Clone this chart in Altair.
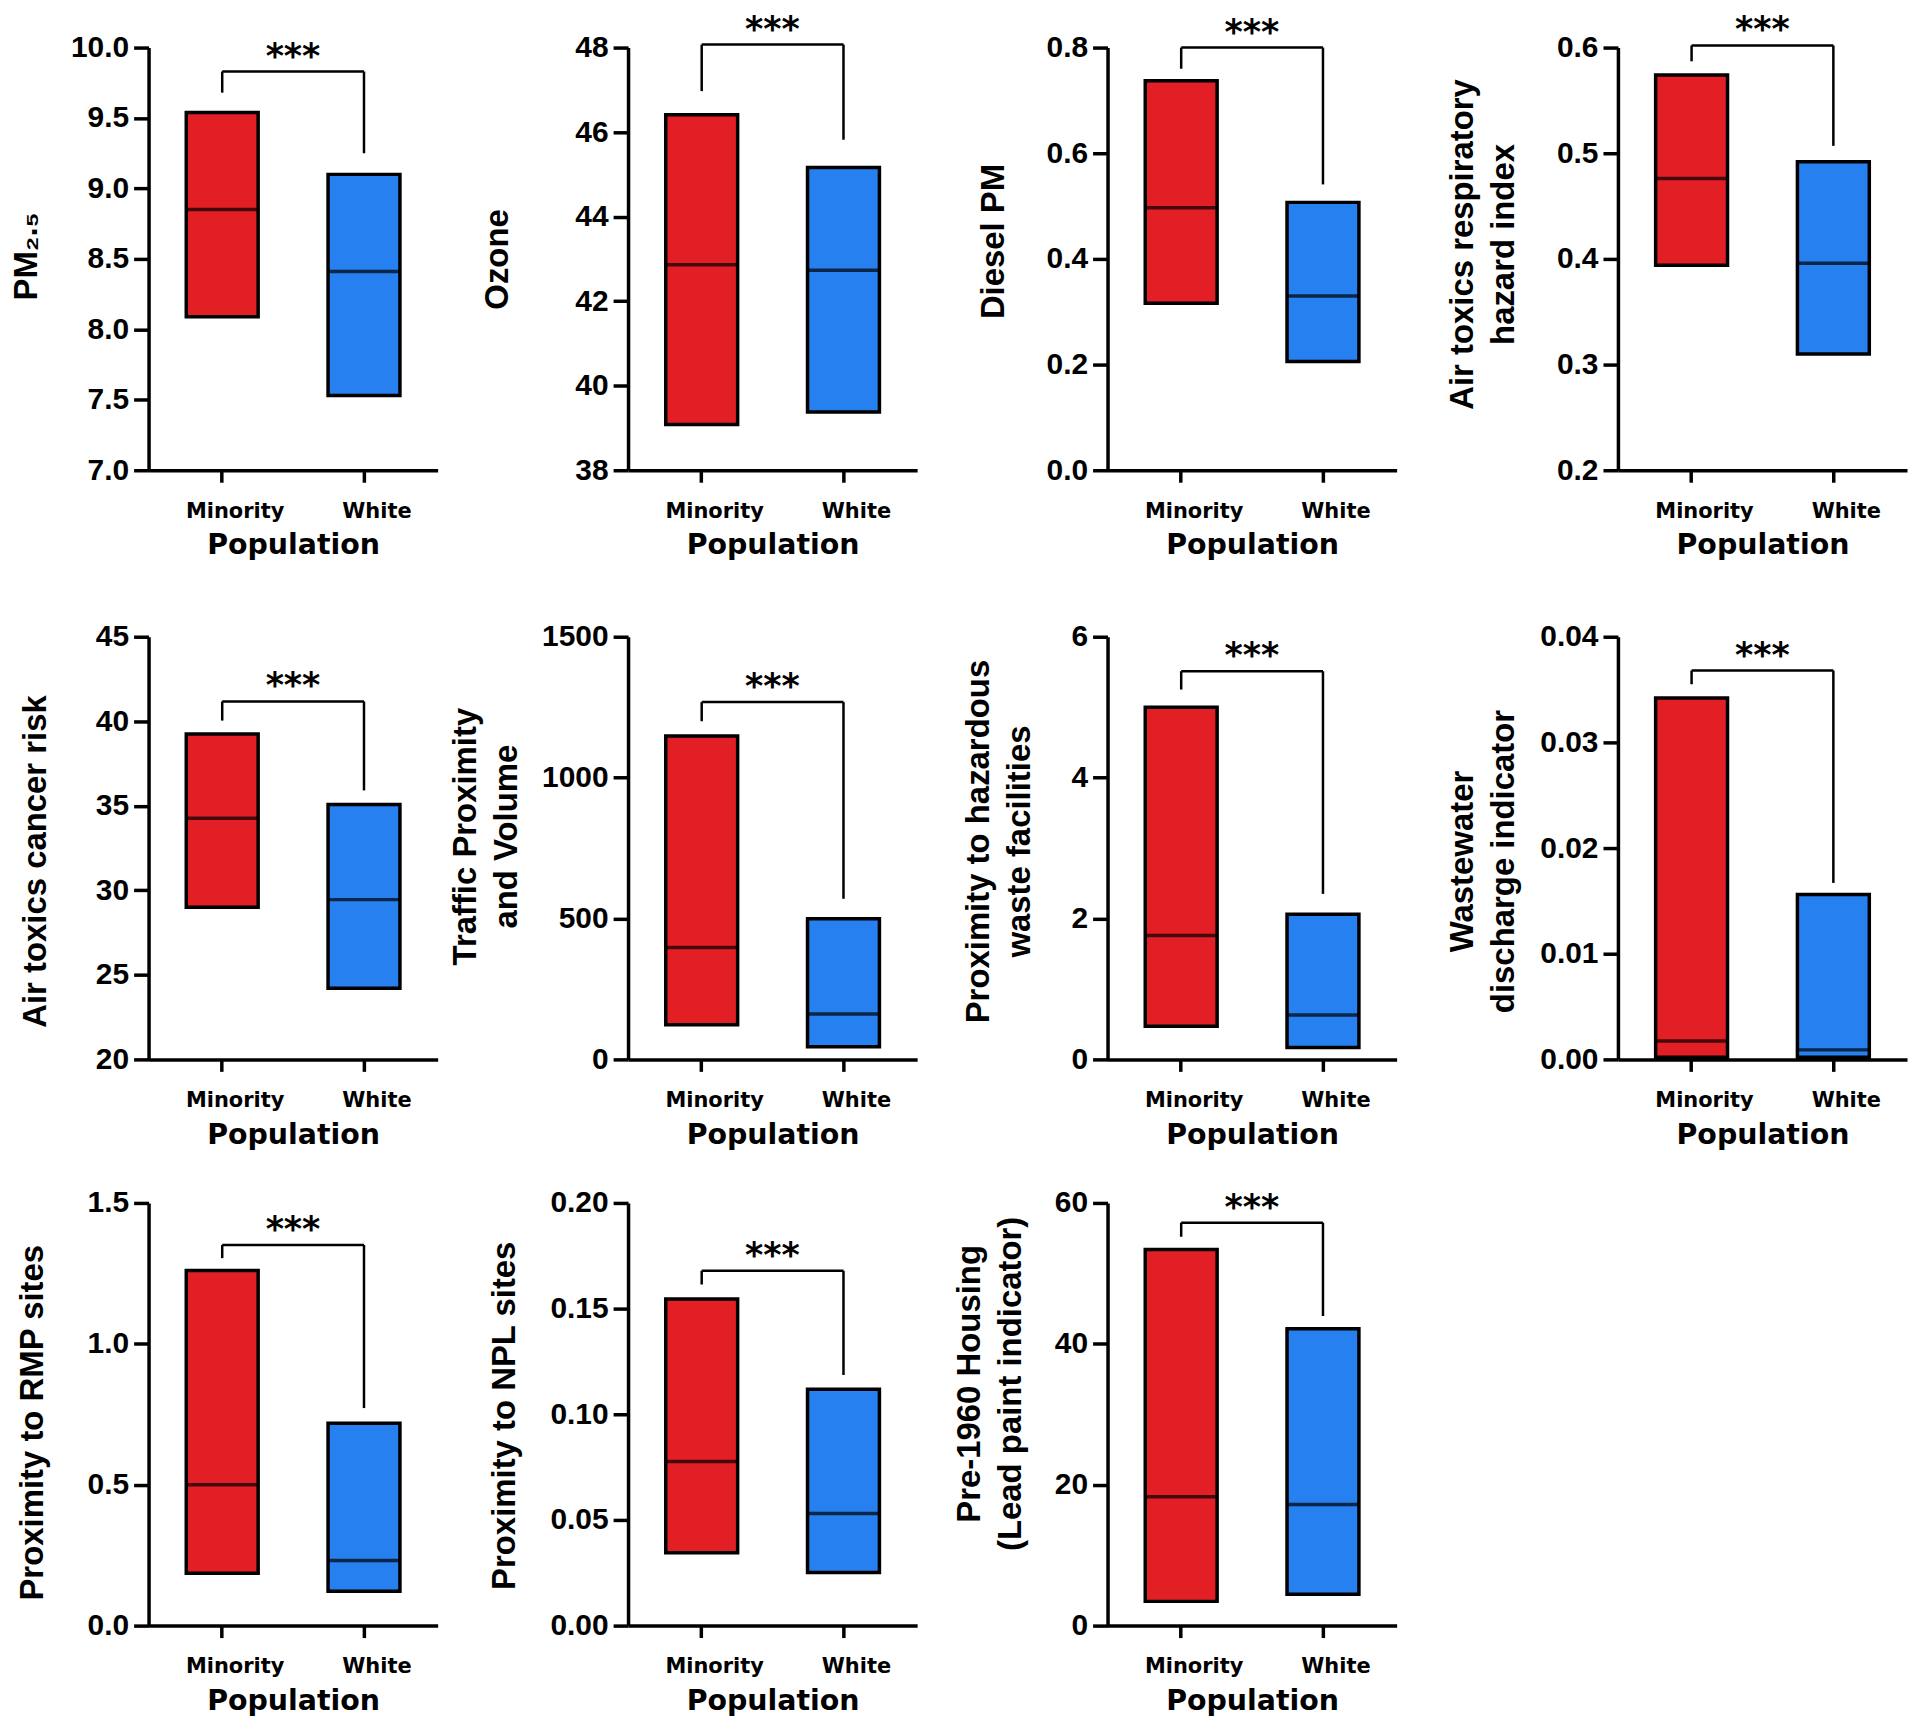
import altair as alt
import pandas as pd

groups = ["Minority", "White"]

titles = [
    ["PM₂.₅"],
    ["Ozone"],
    ["Diesel PM"],
    ["Air toxics respiratory", "hazard index"],
    ["Air toxics cancer risk"],
    ["Traffic Proximity", "and Volume"],
    ["Proximity to hazardous", "waste facilities"],
    ["Wastewater", "discharge indicator"],
    ["Proximity to RMP sites"],
    ["Proximity to NPL sites"],
    ["Pre-1960 Housing", "(Lead paint indicator)"],
]

# Minority: low / median / high
min_low = [8.09, 39.08, 0.316, 0.394, 29.0, 123, 0.47, 0.0002, 0.186, 0.0345, 3.44]
min_med = [8.85, 42.86, 0.497, 0.476, 34.26, 397, 1.76, 0.00175, 0.50, 0.0776, 18.3]
min_high = [9.54, 46.41, 0.737, 0.574, 39.25, 1148, 5.00, 0.0342, 1.26, 0.1545, 53.4]

# White: low / median / high
white_low = [7.53, 39.38, 0.206, 0.310, 24.21, 45, 0.17, 0.0002, 0.122, 0.0251, 4.46]
white_med = [8.41, 42.73, 0.330, 0.396, 29.45, 161, 0.63, 0.0009, 0.231, 0.053, 17.2]
white_high = [9.10, 45.16, 0.507, 0.492, 35.08, 499, 2.06, 0.0156, 0.718, 0.1118, 42.15]

# significance bracket
bracket_top = [9.83, 48.07, 0.80, 0.602, 41.17, 1268, 5.51, 0.0368, 1.351, 0.1679, 57.2]
left_leg = [9.68, 46.97, 0.76, 0.587, 40.04, 1200, 5.25, 0.0355, 1.304, 0.1614, 55.2]
right_leg = [9.25, 45.82, 0.541, 0.507, 35.91, 570, 2.35, 0.0167, 0.772, 0.1186, 43.95]
sig_label = "***"

y_ticks = [
    [7.0, 7.5, 8.0, 8.5, 9.0, 9.5, 10.0],
    [38, 40, 42, 44, 46, 48],
    [0.0, 0.2, 0.4, 0.6, 0.8],
    [0.2, 0.3, 0.4, 0.5, 0.6],
    [20, 25, 30, 35, 40, 45],
    [0, 500, 1000, 1500],
    [0, 2, 4, 6],
    [0.00, 0.01, 0.02, 0.03, 0.04],
    [0.0, 0.5, 1.0, 1.5],
    [0.00, 0.05, 0.10, 0.15, 0.20],
    [0, 20, 40, 60],
]
y_formats = [".1f", "d", ".1f", ".1f", "d", "d", "d", ".2f", ".1f", ".2f", "d"]

# styling: y-title first-line baseline offset from axis, and vertical centre
title_x = [-112, -121, -104, -146, -103, -153, -119, -146, -106, -114, -128]
title_y = [209, 212, 194, 197, 225, 200, 205, 225, 220, 213, 181]

RED = "#E31F26"
BLUE = "#2680F0"
W, H = 290, 424
BAR_W = 72
LW = 3.5


def panel(i):
    box = pd.DataFrame({
        "group": groups,
        "low": [min_low[i], white_low[i]],
        "med": [min_med[i], white_med[i]],
        "high": [min_high[i], white_high[i]],
    })
    legs = pd.DataFrame({
        "group": groups,
        "top": [bracket_top[i], bracket_top[i]],
        "end": [left_leg[i], right_leg[i]],
    })
    br = pd.DataFrame({"g1": [groups[0]], "g2": [groups[1]], "top": [bracket_top[i]]})

    ticks = y_ticks[i]
    yscale = alt.Scale(domain=[ticks[0], ticks[-1]], nice=False, zero=False)
    xscale = alt.Scale(domain=groups, paddingInner=0.493, paddingOuter=0.266)

    x = alt.X("group:N", scale=xscale, sort=groups,
              axis=alt.Axis(title="Population"))
    bars = alt.Chart(box).mark_bar(stroke="black", strokeWidth=LW).encode(
        x=x,
        y=alt.Y("low:Q", scale=yscale,
                axis=alt.Axis(values=ticks, format=y_formats[i], title=titles[i],
                              titleX=title_x[i], titleY=title_y[i])),
        y2="high:Q",
        color=alt.Color("group:N", scale=alt.Scale(domain=groups, range=[RED, BLUE]),
                        legend=None),
    )
    med = alt.Chart(box).mark_tick(size=BAR_W, thickness=LW, color="black").encode(
        x=alt.X("group:N"), y=alt.Y("med:Q"))
    leg = alt.Chart(legs).mark_rule(strokeWidth=2.5, color="black").encode(
        x=alt.X("group:N"), y=alt.Y("top:Q"), y2="end:Q")
    hbar = alt.Chart(br).mark_rule(strokeWidth=2.5, color="black").encode(
        x=alt.X("g1:N"), x2="g2:N", y=alt.Y("top:Q"))
    stars = alt.Chart(br).mark_text(text=sig_label, dx=71, dy=-15, font="DejaVu Sans",
                                    fontWeight="bold", fontSize=35, color="black",
                                    baseline="middle").encode(
        x=alt.X("g1:N"), y=alt.Y("top:Q"))
    return alt.layer(bars, med, leg, hbar, stars).properties(width=W, height=H)


p = [panel(i) for i in range(11)]

row1 = alt.hconcat(alt.hconcat(p[0], p[1], p[2], spacing=191, bounds="flush"), p[3],
                   spacing=49)
row2 = alt.hconcat(alt.hconcat(p[4], p[5], p[6], spacing=191, bounds="flush"), p[7],
                   spacing=49)
row3 = alt.hconcat(p[8], p[9], p[10], spacing=191, bounds="flush")

chart = alt.vconcat(alt.vconcat(row1, row2, spacing=62), row3, spacing=39).properties(
    padding={"left": 3, "top": 2, "right": 5, "bottom": 5}
).configure_view(stroke=None).configure_axis(
    domainColor="black", domainWidth=LW, tickColor="black", tickWidth=LW, grid=False,
    labelColor="black", titleColor="black",
).configure_axisY(
    tickSize=15, labelPadding=5, labelFontSize=30, labelFont="Liberation Sans",
    labelFontWeight="bold", titleFont="Liberation Sans",
    titleFontWeight="bold", titleFontSize=33, titleLineHeight=41,
    titleBaseline="alphabetic",
).configure_axisX(
    tickSize=12, labelFontSize=21, labelAngle=0, labelPadding=18, labelOffset=13,
    labelFont="DejaVu Sans", labelFontWeight="bold",
    titleFont="DejaVu Sans", titleFontWeight="bold", titleFontSize=28.5, titlePadding=10,
)

chart.save("out.html", embed_options={"renderer": "svg", "actions": False})
